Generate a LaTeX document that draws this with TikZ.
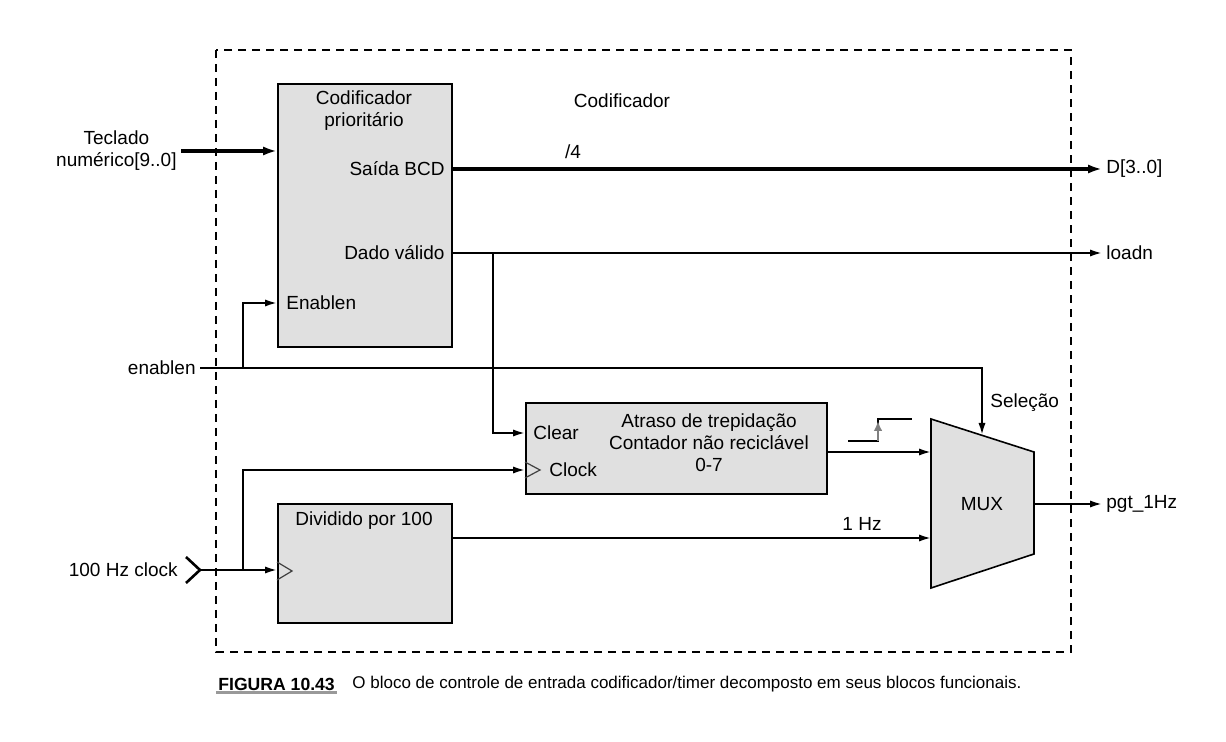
\documentclass[tikz,border=0pt]{standalone}
\usepackage{fontspec}
\setmainfont{Liberation Sans}
\usetikzlibrary{arrows.meta}
\definecolor{boxgray}{gray}{0.88}
\definecolor{capgray}{gray}{0.6}
\tikzset{
  blk/.style={draw, line width=0.8pt, fill=boxgray, anchor=north west, inner sep=0pt},
  lbl/.style={inner sep=2pt, font=\fontsize{9.5}{11}\selectfont},
  wire/.style={line width=1pt, -{Latex[length=6pt,width=3.6pt]}},
  bus/.style={line width=2pt, -{Latex[length=7pt,width=4.6pt]}},
}
\begin{document}
\begin{tikzpicture}[x=0.5pt, y=-0.5pt]
        \useasboundingbox (0,0) rectangle (1226,742);
        \draw [line width=0.6pt, dash pattern=on 4pt off 3pt] (216,50) rectangle (1071,652);
        \node [blk, minimum width=87pt, minimum height=131.5pt] (enc) at (277,83) {};
        \node [blk, minimum width=150.5pt, minimum height=45.5pt] (cnt) at (525,402) {};
        \node [blk, minimum width=87pt, minimum height=59.5pt] (div) at (277,503) {};
        \draw [blk, line width=0.8pt] (931,419) -- (1034,452) -- (1034,554) -- (931,588) -- cycle;
        \node [lbl, align=center] (encname) at (364,111) {Codificador\\prioritário};
        \node [lbl] (title) at (622,101) {Codificador};
        \node [lbl, align=center] (cntname) at (709,443) {Atraso de trepidação\\Contador não reciclável\\0-7};
        \node [lbl] (divname) at (364,521) {Dividido por 100};
        \node [lbl] (mux) at (982,504) {MUX};
        \node [lbl, anchor=east] (bcd) at (449,169) {Saída BCD};
        \node [lbl, anchor=east] (dv) at (449,253) {Dado válido};
        \node [lbl, anchor=west] (enp) at (282,303) {Enablen};
        \node [lbl, anchor=west] (clr) at (529,433) {Clear};
        \node [lbl, anchor=west] (clk) at (545,470) {Clock};
        \node [lbl, anchor=east, align=center] (kp) at (181,151) {Teclado\\numérico[9..0]};
        \node [lbl, anchor=east] (en) at (200,368) {enablen};
        \node [lbl, anchor=east] (hz) at (182,570) {100 Hz clock};
        \node [lbl, anchor=west] (dout) at (1102,169) {D[3..0]};
        \node [lbl, anchor=west] (ld) at (1102,253) {loadn};
        \node [lbl, anchor=west] (pgt) at (1102,504) {pgt\_1Hz};
        \node [lbl, anchor=west] (sel) at (986,403) {Seleção};
        \node [lbl] (w4) at (573,152) {/4};
        \node [lbl] (onehz) at (862,524) {1 Hz};
        \coordinate (dvj) at (493,253);
        \coordinate (enj) at (243,368);
        \coordinate (ckj) at (243,570);
        \coordinate (hzin) at (200,570);
        \coordinate (selin) at (982,435);
        \coordinate (cntout) at (826,452);
        \coordinate (divout) at (451,538);
        \coordinate (muxout) at (1034,504);
        \draw [bus] (kp.east) -- (kp.east -| enc.west);
        \draw [bus] (bcd.east -| enc.east) -- (dout.west);
        \draw [wire] (dv.east -| enc.east) -- (ld.west);
        \draw [wire] (dvj) |- (clr.west -| cnt.west);
        \draw [wire] (en.east) -| (selin);
        \draw [wire] (enj) |- (enp.west -| enc.west);
        \draw [wire] (ckj) |- (clk.west -| cnt.west);
        \draw [line width=1.3pt] (186,557) -- (hzin) -- (186,583);
        \draw [wire] (hzin) -- (hzin -| div.west);
        \draw [wire] (cntout) -- (cntout -| 931,0);
        \draw [wire] (divout) -- (divout -| 931,0);
        \draw [wire] (muxout) -- (pgt.west);
        \draw [line width=0.6pt, darkgray] (525,462) -- (540,470) -- (525,478);
        \draw [line width=0.6pt, darkgray] (277,562) -- (292,571) -- (277,580);
        \draw [line width=1pt] (848,441) -- (878,441) -- (878,419) -- (912,419);
        \draw [line width=1pt, gray, -{Latex[length=5pt,width=4.4pt]}] (878,441) -- (878,421);
        \node [anchor=west, inner sep=1pt, font=\fontsize{8.8}{10}\selectfont\bfseries] (fig) at (216,684) {FIGURA 10.43};
        \draw [capgray, line width=1.5pt] (fig.south west) -- (fig.south east);
        \node [anchor=west, inner sep=0pt, font=\fontsize{8.5}{10}\selectfont] (cap) at (352,684) {O bloco de controle de entrada codificador/timer decomposto em seus blocos funcionais.};
\end{tikzpicture}
\end{document}
